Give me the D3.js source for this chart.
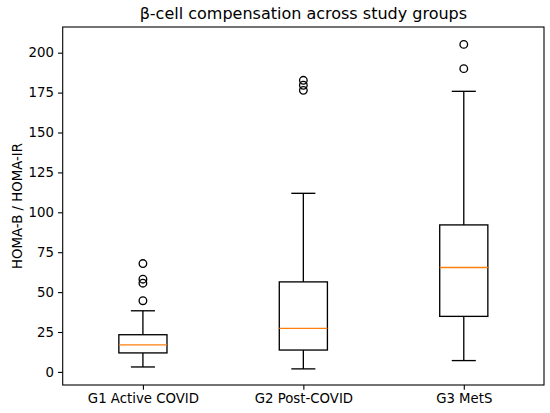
<!DOCTYPE html>
<html>
<head>
<meta charset="utf-8">
<script src="https://cdn.jsdelivr.net/npm/d3@7"></script>
<style>
  body { margin: 0; background: #fff; }
  text { font-family: "DejaVu Sans", sans-serif; fill: #000; }
</style>
</head>
<body>
<script>
// Global variable
const w = 550;
const h = 413;
const margin = {top: 27, right: 6, bottom: 28, left: 62.7};

// box statistics
const groups = ["G1 Active COVID", "G2 Post-COVID", "G3 MetS"];
const whiskerLow = [3.1, 1.9, 7.1];
const q1 = [11.9, 13.7, 34.8];
const median = [16.9, 27.3, 65.4];
const q3 = [23.3, 56.4, 92.1];
const whiskerHigh = [38.3, 111.9, 175.8];
const outliers = [
    [44.6, 55.6, 58.1, 67.9],
    [176.4, 179.6, 182.7],
    [190.0, 205.2]
];
const yTicks = [0, 25, 50, 75, 100, 125, 150, 175, 200];

const boxes = groups.map((g, i) => ({
    name: g, pos: i + 1,
    lo: whiskerLow[i], q1: q1[i], med: median[i], q3: q3[i], hi: whiskerHigh[i],
    out: outliers[i]
}));

//Create SVG element
let svg = d3.select("body")
            .append("svg")
                .attr("width", w)
                .attr("height", h);

const x = d3.scaleLinear()
            .domain([0.5, 3.5])
            .range([margin.left, w - margin.right]);

const y = d3.scaleLinear()
            .domain([-8.2, 216.1])
            .range([h - margin.bottom, margin.top]);

const boxW = x(1.15) - x(0.85);
const capW = boxW / 2;
const lw = 1.33;

// axes
svg.append("g")
    .attr("transform", "translate(0," + (h - margin.bottom) + ")")
    .call(d3.axisBottom(x).tickValues([1, 2, 3]).tickFormat((d) => groups[d - 1]).tickSizeOuter(0).tickSize(4.7).tickPadding(4))
    .call((g) => g.select(".domain").remove())
    .selectAll("text").style("font-size", "13.3px");

svg.append("g")
    .attr("transform", "translate(" + margin.left + ",0)")
    .call(d3.axisLeft(y).tickValues(yTicks).tickSizeOuter(0).tickSize(4.7).tickPadding(4))
    .call((g) => g.select(".domain").remove())
    .selectAll("text").style("font-size", "13.3px");

svg.selectAll(".tick line").attr("stroke", "#000").attr("stroke-width", 1.1);

// one group per box
const bx = svg.selectAll(".box")
    .data(boxes)
    .enter()
    .append("g")
        .attr("class", "box");

// whiskers
bx.append("line")
    .attr("x1", (d) => x(d.pos)).attr("x2", (d) => x(d.pos))
    .attr("y1", (d) => y(d.lo)).attr("y2", (d) => y(d.q1))
    .attr("stroke", "#000").attr("stroke-width", lw);
bx.append("line")
    .attr("x1", (d) => x(d.pos)).attr("x2", (d) => x(d.pos))
    .attr("y1", (d) => y(d.q3)).attr("y2", (d) => y(d.hi))
    .attr("stroke", "#000").attr("stroke-width", lw);

// caps
bx.append("line")
    .attr("x1", (d) => x(d.pos) - capW / 2).attr("x2", (d) => x(d.pos) + capW / 2)
    .attr("y1", (d) => y(d.lo)).attr("y2", (d) => y(d.lo))
    .attr("stroke", "#000").attr("stroke-width", lw);
bx.append("line")
    .attr("x1", (d) => x(d.pos) - capW / 2).attr("x2", (d) => x(d.pos) + capW / 2)
    .attr("y1", (d) => y(d.hi)).attr("y2", (d) => y(d.hi))
    .attr("stroke", "#000").attr("stroke-width", lw);

// box
bx.append("rect")
    .attr("x", (d) => x(d.pos) - boxW / 2)
    .attr("width", boxW)
    .attr("y", (d) => y(d.q3))
    .attr("height", (d) => y(d.q1) - y(d.q3))
    .attr("fill", "none")
    .attr("stroke", "#000").attr("stroke-width", lw);

// median
bx.append("line")
    .attr("x1", (d) => x(d.pos) - boxW / 2).attr("x2", (d) => x(d.pos) + boxW / 2)
    .attr("y1", (d) => y(d.med)).attr("y2", (d) => y(d.med))
    .attr("stroke", "#ff7f0e").attr("stroke-width", lw);

// fliers
bx.selectAll("circle")
    .data((d) => d.out.map((v) => ({pos: d.pos, v: v})))
    .enter()
    .append("circle")
    .attr("cx", (d) => x(d.pos))
    .attr("cy", (d) => y(d.v))
    .attr("r", 3.8)
    .attr("fill", "none")
    .attr("stroke", "#000").attr("stroke-width", lw);

// frame
svg.append("rect")
    .attr("x", margin.left).attr("y", margin.top)
    .attr("width", w - margin.right - margin.left)
    .attr("height", h - margin.bottom - margin.top)
    .attr("fill", "none")
    .attr("stroke", "#000").attr("stroke-width", 1.1);

// title
svg.append("text")
    .attr("x", (margin.left + w - margin.right) / 2)
    .attr("y", 19)
    .attr("text-anchor", "middle")
    .style("font-size", "16px")
    .text("β-cell compensation across study groups");

// y label
svg.append("text")
    .attr("transform", "translate(21.5," + ((margin.top + h - margin.bottom) / 2) + ") rotate(-90)")
    .attr("text-anchor", "middle")
    .style("font-size", "13.3px")
    .text("HOMA-B / HOMA-IR");
</script>
</body>
</html>
